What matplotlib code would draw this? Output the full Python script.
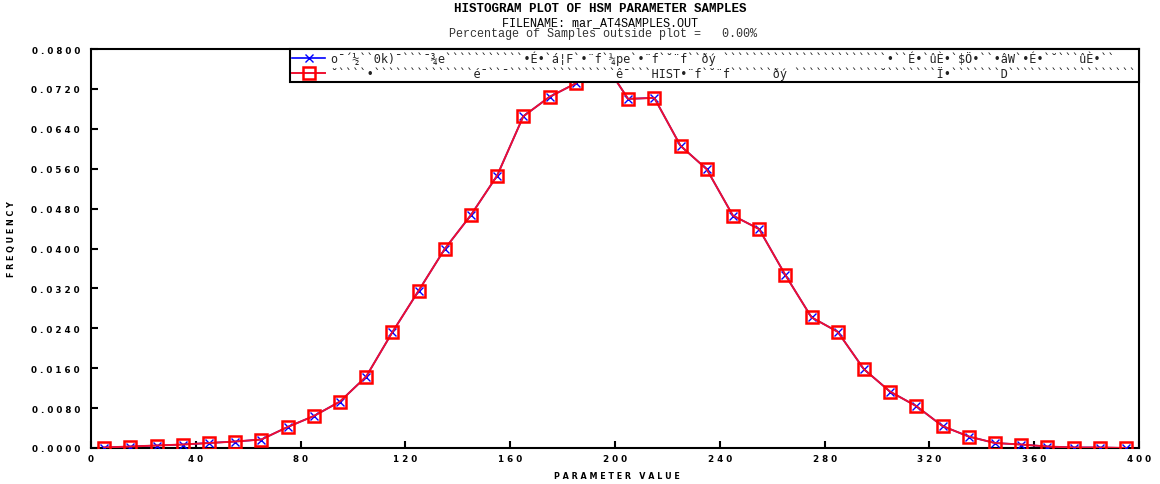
import numpy as np
from matplotlib import pyplot as plt
from matplotlib.ticker import FuncFormatter

# bin centres and frequencies
param_value = np.arange(5, 400, 10)
frequency = [
    0.0001, 0.0003, 0.0005, 0.0007, 0.0010, 0.0013, 0.0017, 0.0042, 0.0064, 0.0093,
    0.0143, 0.0232, 0.0315, 0.0399, 0.0467, 0.0546, 0.0665, 0.0704, 0.0731, 0.0780,
    0.0700, 0.0702, 0.0606, 0.0559, 0.0466, 0.0439, 0.0347, 0.0262, 0.0233, 0.0158,
    0.0113, 0.0084, 0.0044, 0.0023, 0.0010, 0.0007, 0.0003, 0.0001, 0.0001, 0.0000,
]

# legend labels as they appear (mis-decoded text in the original file)
label_1 = ("o¯´½``0k)¯```¯¾e```````````•É•`á¦F`•¨f`¼pe`•¨f`˘¨f``ðý "
           "```````````````````````•``É•`ûÈ•`$Ö•``•âW`•É•`˘```ûÈ•``")
label_2 = ("˘````•``````````````é¯``¯```````````````ê¯```HIST•¨f`˘¨f``````ðý "
           "````````````˘```````Ï•```````D``````````````````")

title_1 = "HISTOGRAM PLOT OF HSM PARAMETER SAMPLES"
title_2 = "FILENAME: mar_AT4SAMPLES.OUT"
title_3 = "Percentage of Samples outside plot =   0.00%"

mono = "Liberation Mono"
tickfont = "DejaVu Sans"

fig = plt.figure(figsize=(11.6, 4.85), dpi=100)
ax = fig.add_axes([91 / 1160, 1 - 449 / 485, (1139 - 91) / 1160, (449 - 50) / 485])

ax.plot(param_value, frequency, color="blue", lw=1.2, marker="x", ms=6, mew=1.0,
        label=label_1, zorder=3)
ax.plot(param_value, frequency, color="#ee1030", lw=1.4, marker="s", ms=8,
        mfc="none", mec="red", mew=1.8, label=label_2, zorder=4)

ax.set_xlim(0, 400)
ax.set_ylim(0, 0.08)
ax.set_xticks(np.arange(0, 401, 40))
ax.set_yticks(np.arange(0, 0.0801, 0.008))
ax.xaxis.set_major_formatter(FuncFormatter(lambda v, p: " ".join(str(int(round(v))))))
ax.yaxis.set_major_formatter(FuncFormatter(lambda v, p: " ".join(f"{v:.4f}")))
ax.tick_params(direction="in", length=5, width=1.5, top=False, right=False)
ax.tick_params(axis="x", pad=4)
ax.tick_params(axis="y", pad=8)
for lab in ax.get_xticklabels() + ax.get_yticklabels():
    lab.set_fontfamily(tickfont)
    lab.set_fontsize(6.3)
    lab.set_fontweight("bold")
for s in ax.spines.values():
    s.set_linewidth(1.5)

ax.set_ylabel(" ".join("FREQUENCY"), fontfamily=tickfont, fontsize=5.8, fontweight="bold")
ax.yaxis.set_label_coords(-0.0716, 0.525)
ax.set_xlabel(" ".join("PARAMETER") + "   " + " ".join("VALUE"),
              fontfamily=tickfont, fontsize=5.8, fontweight="bold")
ax.xaxis.set_label_coords(0.502, -0.058)

leg = ax.legend(loc="upper left", bbox_to_anchor=((290 - 91) / 1048, 0, (1139 - 290) / 1048, 1.0),
                mode="expand", prop={"family": "DejaVu Sans Mono", "size": 8.6},
                frameon=True, fancybox=False, edgecolor="black", framealpha=1,
                borderpad=0.16, labelspacing=0.04, handlelength=2.8, handletextpad=0.5,
                borderaxespad=0)
leg.get_frame().set_linewidth(1.5)
for t in leg.get_texts():
    t.set_color("#222222")

fig.text(600 / 1160, 1 - 12 / 485, title_1, ha="center", va="baseline",
         fontfamily=mono, fontsize=9, fontweight="bold")
fig.text(600 / 1160, 1 - 26 / 485, title_2, ha="center", va="baseline",
         fontfamily=mono, fontsize=8.5)
fig.text(603 / 1160, 1 - 37 / 485, title_3, ha="center", va="baseline",
         fontfamily=mono, fontsize=8.5, color="#333333")

plt.savefig("out.png", dpi=100)
